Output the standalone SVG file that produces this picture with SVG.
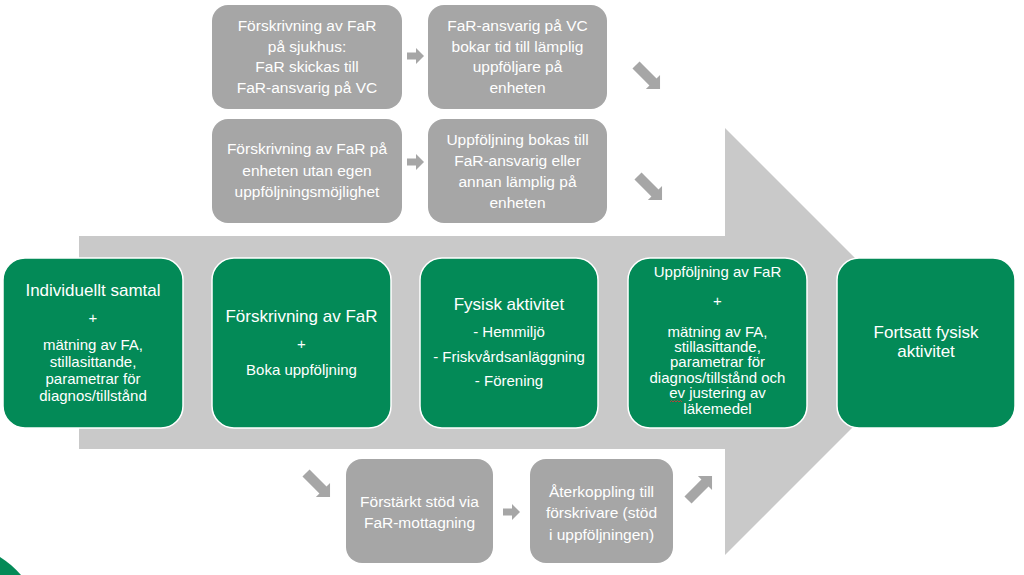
<svg xmlns="http://www.w3.org/2000/svg" width="1024" height="575" viewBox="0 0 1024 575">
<defs>
<style>
text{font-family:"Liberation Sans",Arial,sans-serif;fill:#ffffff;text-anchor:middle}
.g{fill:#a6a6a6}
.gt{font-size:15.5px}
.n{fill:#038a57;stroke:#ffffff;stroke-width:1.5}
.h{font-size:17px}
.d{font-size:15px}
.ar{fill:#a6a6a6}
</style>
<path id="sa" d="M0,-3.5 H9 V-8 L17,0 L9,8 V3.5 H0 Z"/>
<path id="da" d="M0,-5 H24 V-10 L34,0 L24,10 V5 H0 Z"/>
</defs>
<rect width="1024" height="575" fill="#ffffff"/>
<path d="M0,557 C8,562 15,568 21,575 L0,575 Z" fill="#038a57"/>
<path id="bigarrow" d="M79,236 H725 V128 L938.5,341.5 L725,555 V449 H79 Z" fill="#c9c9c9"/>

<g id="connectors" class="ar">
<use href="#sa" x="407" y="56"/>
<use href="#sa" x="407" y="162"/>
<use href="#sa" x="503" y="512"/>
<use href="#da" transform="translate(636,65) rotate(45)"/>
<use href="#da" transform="translate(638,176) rotate(45)"/>
<use href="#da" transform="translate(306,473) rotate(45)"/>
<use href="#da" transform="translate(688,500) rotate(-45)"/>
</g>

<g id="top1">
<rect class="g" x="212" y="5" width="190" height="104" rx="16"/>
<text class="gt" x="307" y="31">Förskrivning av FaR</text>
<text class="gt" x="307" y="52">på sjukhus:</text>
<text class="gt" x="307" y="72">FaR skickas till</text>
<text class="gt" x="307" y="93">FaR-ansvarig på VC</text>
</g>
<g id="top2">
<rect class="g" x="428" y="5" width="179" height="104" rx="16"/>
<text class="gt" x="517.5" y="31">FaR-ansvarig på VC</text>
<text class="gt" x="517.5" y="52">bokar tid till lämplig</text>
<text class="gt" x="517.5" y="72">uppföljare på</text>
<text class="gt" x="517.5" y="93">enheten</text>
</g>
<g id="mid1">
<rect class="g" x="212" y="119" width="190" height="104" rx="16"/>
<text class="gt" x="307" y="154">Förskrivning av FaR på</text>
<text class="gt" x="307" y="176">enheten utan egen</text>
<text class="gt" x="307" y="197">uppföljningsmöjlighet</text>
</g>
<g id="mid2">
<rect class="g" x="428" y="119" width="179" height="104" rx="16"/>
<text class="gt" x="517.5" y="145">Uppföljning bokas till</text>
<text class="gt" x="517.5" y="166">FaR-ansvarig eller</text>
<text class="gt" x="517.5" y="187">annan lämplig på</text>
<text class="gt" x="517.5" y="208">enheten</text>
</g>

<g id="step1">
<rect class="n" x="3" y="258" width="180" height="170" rx="22"/>
<text class="h" x="93" y="296">Individuellt samtal</text>
<text class="d" x="93" y="323">+</text>
<text class="d" x="93" y="350">mätning av FA,</text>
<text class="d" x="93" y="367">stillasittande,</text>
<text class="d" x="93" y="384">parametrar för</text>
<text class="d" x="93" y="401">diagnos/tillstånd</text>
</g>
<g id="step2">
<rect class="n" x="212" y="258" width="179" height="170" rx="22"/>
<text class="h" x="301.5" y="322">Förskrivning av FaR</text>
<text class="d" x="301.5" y="349">+</text>
<text class="d" x="301.5" y="375">Boka uppföljning</text>
</g>
<g id="step3">
<rect class="n" x="420" y="258" width="178" height="170" rx="22"/>
<text class="h" x="509" y="310">Fysisk aktivitet</text>
<text class="d" x="509" y="337">- Hemmiljö</text>
<text class="d" x="509" y="362">- Friskvårdsanläggning</text>
<text class="d" x="509" y="386">- Förening</text>
</g>
<g id="step4">
<rect class="n" x="628" y="258" width="179" height="170" rx="22"/>
<text class="d" x="717.5" y="277">Uppföljning av FaR</text>
<text class="d" x="717.5" y="306">+</text>
<text class="d" x="717.5" y="337">mätning av FA,</text>
<text class="d" x="717.5" y="352">stillasittande,</text>
<text class="d" x="717.5" y="367">parametrar för</text>
<text class="d" x="717.5" y="383">diagnos/tillstånd och</text>
<text class="d" x="717.5" y="398">ev justering av</text>
<text class="d" x="717.5" y="414">läkemedel</text>
<polyline points="670,402 671.5,400.5 673,402 674.5,400.5 676,402 677.5,400.5 679,402 680.5,400.5 682,402" fill="none" stroke="#e03030" stroke-width="0.8"/>
</g>
<g id="step5">
<rect class="n" x="837" y="258" width="178" height="170" rx="22"/>
<text class="h" x="926" y="338">Fortsatt fysisk</text>
<text class="h" x="926" y="357">aktivitet</text>
</g>

<g id="bot1">
<rect class="g" x="346" y="459" width="147" height="104" rx="16"/>
<text class="gt" x="419.5" y="507">Förstärkt stöd via</text>
<text class="gt" x="419.5" y="528">FaR-mottagning</text>
</g>
<g id="bot2">
<rect class="g" x="530" y="459" width="143" height="104" rx="16"/>
<text class="gt" x="601.5" y="497">Återkoppling till</text>
<text class="gt" x="601.5" y="518">förskrivare (stöd</text>
<text class="gt" x="601.5" y="540">i uppföljningen)</text>
</g>
</svg>
